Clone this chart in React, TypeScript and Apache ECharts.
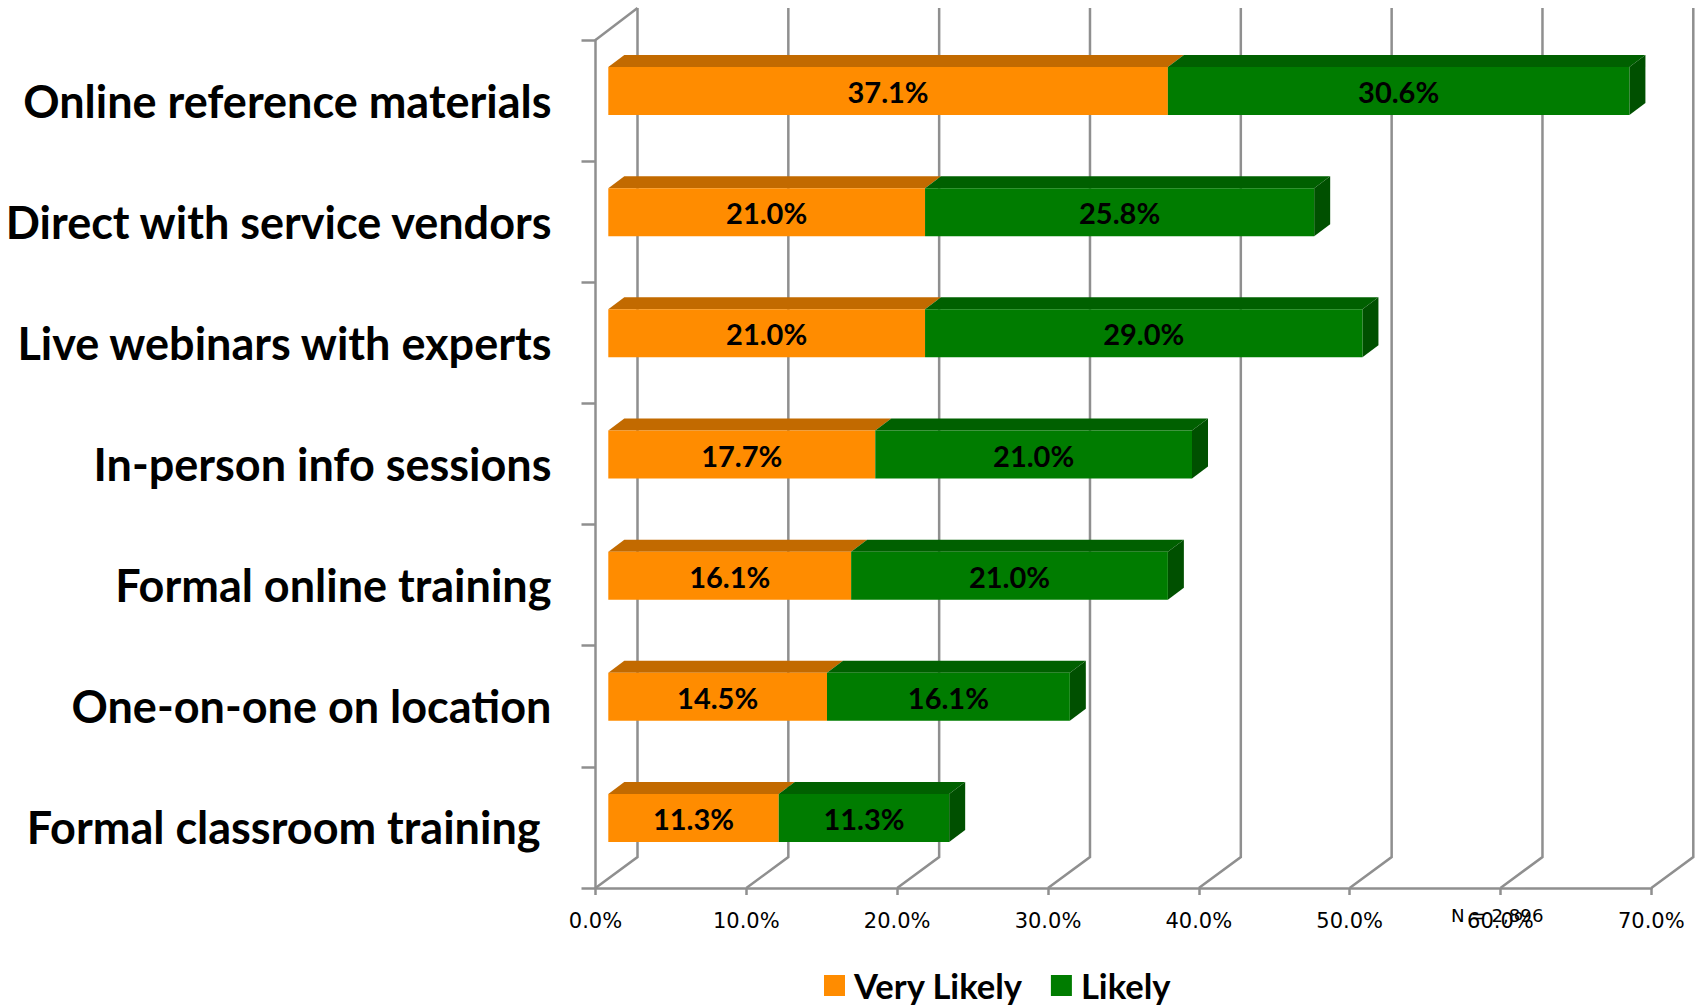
import React, { useEffect, useRef } from "react";
import * as echarts from "echarts";

const categories = [
  "Online reference materials",
  "Direct with service vendors",
  "Live webinars with experts",
  "In-person info sessions",
  "Formal online training",
  "One-on-one on location",
  "Formal classroom training ",
];
const veryLikely = [37.1, 21.0, 21.0, 17.7, 16.1, 14.5, 11.3];
const likely = [30.6, 25.8, 29.0, 21.0, 21.0, 16.1, 11.3];
const xTicks = [0, 10, 20, 30, 40, 50, 60, 70];
const note = "N = 2,896";

const WALL_DX = 42;
const WALL_DY = 31;
const BAR_OFFSET_X = 12.8;
const BAR_TOP = -33.5;
const BAR_BOTTOM = 14.5;
const DEPTH_DX = 16;
const DEPTH_DY = 12;
const GRID_COLOR = "#8f8f8f";
const GRID_WIDTH = 2.5;

function barItem(front: string, top: string, side: string, showSide: boolean) {
  return (params: any, api: any) => {
    const start = api.value(0);
    const end = api.value(1);
    const cat = api.value(2);
    const a = api.coord([start, cat]);
    const b = api.coord([end, cat]);
    const x0 = a[0] + BAR_OFFSET_X;
    const x1 = b[0] + BAR_OFFSET_X;
    const y0 = a[1] + BAR_TOP;
    const y1 = a[1] + BAR_BOTTOM;
    const children: any[] = [
      {
        type: "polygon",
        shape: { points: [[x0, y0], [x1, y0], [x1 + DEPTH_DX, y0 - DEPTH_DY], [x0 + DEPTH_DX, y0 - DEPTH_DY]] },
        style: { fill: top },
      },
    ];
    if (showSide) {
      children.push({
        type: "polygon",
        shape: { points: [[x1, y0], [x1 + DEPTH_DX, y0 - DEPTH_DY], [x1 + DEPTH_DX, y1 - DEPTH_DY], [x1, y1]] },
        style: { fill: side },
      });
    }
    children.push({
      type: "rect",
      shape: { x: x0, y: y0, width: x1 - x0, height: y1 - y0 },
      style: { fill: front },
    });
    children.push({
      type: "text",
      style: {
        text: (end - start).toFixed(1) + "%",
        x: (x0 + x1) / 2,
        y: (y0 + y1) / 2 + 0.5,
        align: "center",
        verticalAlign: "middle",
        fontFamily: "Lato",
        fontWeight: "bold",
        fontSize: 29,
        fill: "#000",
      },
    });
    return { type: "group", children };
  };
}

function wallItem(params: any, api: any) {
  const v = api.value(0);
  const cs = params.coordSys;
  const x = api.coord([v, 0])[0];
  const bottom = cs.y + cs.height;
  const top = cs.y;
  const line = { stroke: GRID_COLOR, lineWidth: GRID_WIDTH, fill: "none" };
  const children: any[] = [
    {
      type: "polyline",
      shape: { points: [[x, bottom], [x + WALL_DX, bottom - WALL_DY], [x + WALL_DX, top - WALL_DY - 1]] },
      style: line,
    },
  ];
  if (v === 0) {
    children.push({
      type: "line",
      shape: { x1: x, y1: top, x2: x + WALL_DX, y2: top - WALL_DY - 1 },
      style: line,
    });
  }
  return { type: "group", children };
}

export default function App() {
  const ref = useRef<HTMLDivElement>(null);
  useEffect(() => {
    if (!ref.current) return;
    const chart = echarts.init(ref.current, undefined, { renderer: "svg" });
    const orangeData = veryLikely.map((v, i) => [0, v, i]);
    const greenData = likely.map((v, i) => [veryLikely[i], +(veryLikely[i] + v).toFixed(1), i]);
    chart.setOption({
      animation: false,
      backgroundColor: "#ffffff",
      grid: { left: 595.5, top: 40, width: 1055.8, height: 848, containLabel: false, outerBoundsMode: "none" },
      xAxis: {
        type: "value",
        min: 0,
        max: 70,
        interval: 10,
        splitLine: { show: false },
        axisLine: { show: true, lineStyle: { color: GRID_COLOR, width: GRID_WIDTH } },
        axisTick: { show: true, length: 7, lineStyle: { color: GRID_COLOR, width: GRID_WIDTH } },
        axisLabel: {
          margin: 22,
          fontFamily: "DejaVu Sans",
          fontSize: 21,
          color: "#000",
          formatter: (v: number) => v.toFixed(1) + "%",
        },
      },
      yAxis: {
        type: "category",
        inverse: true,
        data: categories,
        axisLine: { show: true, lineStyle: { color: GRID_COLOR, width: GRID_WIDTH } },
        axisTick: { show: true, length: 14, lineStyle: { color: GRID_COLOR, width: GRID_WIDTH } },
        axisLabel: {
          margin: 44,
          fontFamily: "Lato",
          fontWeight: "bold",
          fontSize: 45,
          color: "#000",
        },
      },
      legend: {
        data: ["Very Likely", "Likely"],
        left: 824,
        top: 968,
        padding: 0,
        icon: "rect",
        itemWidth: 21,
        itemHeight: 21,
        itemGap: 28,
        textStyle: {
          fontFamily: "Lato",
          fontWeight: "bold",
          fontSize: 34.6,
          color: "#000",
          padding: [0, 0, 0, 4],
        },
      },
      graphic: [
        {
          type: "text",
          x: 1451,
          y: 915,
          style: {
            text: note,
            fontFamily: "DejaVu Sans",
            fontSize: 18.2,
            fill: "#000",
            verticalAlign: "middle",
          },
        },
      ],
      series: [
        {
          type: "custom",
          silent: true,
          z: 1,
          data: xTicks.map((t) => [t]),
          encode: { x: 0 },
          renderItem: wallItem,
        },
        {
          type: "custom",
          name: "Very Likely",
          z: 2,
          data: orangeData,
          encode: { x: [0, 1], y: 2 },
          itemStyle: { color: "#FF8C00" },
          renderItem: barItem("#FF8C00", "#C26A00", "#A85C00", false),
        },
        {
          type: "custom",
          name: "Likely",
          z: 3,
          data: greenData,
          encode: { x: [0, 1], y: 2 },
          itemStyle: { color: "#007C00" },
          renderItem: barItem("#007C00", "#006000", "#005000", true),
        },
      ],
    });
    return () => chart.dispose();
  }, []);
  return (
    <div
      ref={ref}
      style={{ position: "absolute", left: 0, top: 0, width: 1700, height: 1005, background: "#fff" }}
    />
  );
}
